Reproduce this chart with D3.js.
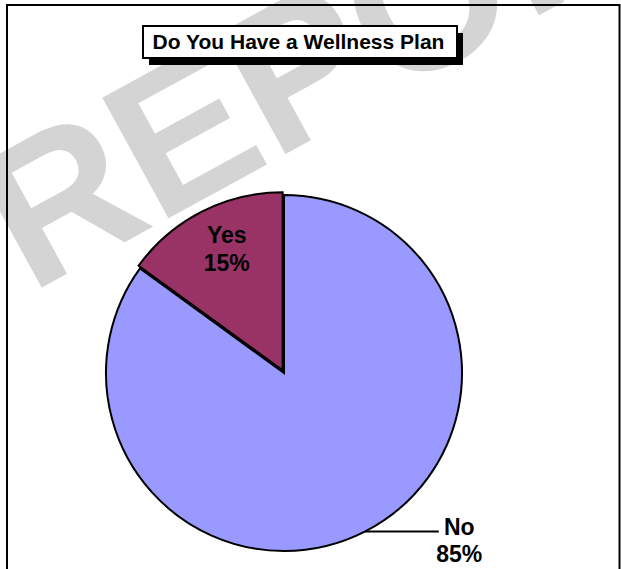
<!DOCTYPE html>
<html>
<head>
<meta charset="utf-8">
<script src="https://cdn.jsdelivr.net/npm/d3@7"></script>
<style>
  html, body { margin: 0; padding: 0; background: #fff; }
  svg { display: block; }
  text { font-family: "Liberation Sans", Arial, Helvetica, sans-serif; font-weight: bold; }
</style>
</head>
<body>
<svg id="chart" width="621" height="569"></svg>
<script>
// Survey answers, percent of respondents
const categories = ["No", "Yes"];
const values = [85, 15];
const sliceColors = ["#9999FF", "#993366"];
const titleText = "Do You Have a Wellness Plan";
const watermarkText = "REPORT";

const W = 621, H = 569;
const svg = d3.select("#chart");

// Light grey stamp running diagonally behind the chart
svg.append("text")
  .attr("transform", "translate(30,294) rotate(-28.7)")
  .attr("font-size", 200)
  .attr("fill", "#d4d4d4")
  .text(watermarkText);

// Chart frame
svg.append("rect")
  .attr("x", 7).attr("y", 5)
  .attr("width", 612.5).attr("height", 570)
  .attr("fill", "none")
  .attr("stroke", "#000")
  .attr("stroke-width", 2);

// Title box with drop shadow
const tb = { x: 143, y: 26, w: 314, h: 32, sh: 6 };
svg.append("rect")
  .attr("x", tb.x + tb.sh).attr("y", tb.y + tb.sh + 1)
  .attr("width", tb.w).attr("height", tb.h)
  .attr("fill", "#000");
svg.append("rect")
  .attr("x", tb.x).attr("y", tb.y)
  .attr("width", tb.w).attr("height", tb.h)
  .attr("fill", "#fff")
  .attr("stroke", "#000")
  .attr("stroke-width", 2);
svg.append("text")
  .attr("x", tb.x + tb.w / 2 - 1.5)
  .attr("y", tb.y + 22.5)
  .attr("text-anchor", "middle")
  .attr("font-size", 21)
  .attr("fill", "#000")
  .text(titleText);

// Pie
const cx = 284, cy = 373, R = 178;
const data = categories.map((c, i) => ({ name: c, value: values[i], color: sliceColors[i] }));
const pie = d3.pie().sort(null).value(d => d.value).startAngle(0).endAngle(2 * Math.PI);
const arcs = pie(data);
const arc = d3.arc().innerRadius(0).outerRadius(R);

const g = svg.append("g").attr("transform", `translate(${cx},${cy})`);

// Small slices are pulled out a little from the centre
const explode = d => (d.data.name === "Yes" ? 3 : 0);
const mid = d => (d.startAngle + d.endAngle) / 2;

g.selectAll("path.slice")
  .data(arcs)
  .join("path")
  .attr("class", "slice")
  .attr("d", arc)
  .attr("transform", d => {
    const o = explode(d), a = mid(d);
    return `translate(${o * Math.sin(a)},${-o * Math.cos(a)})`;
  })
  .attr("fill", d => d.data.color)
  .attr("stroke", "#000")
  .attr("stroke-width", 2)
  .attr("stroke-linejoin", "miter");

const fmt = d => `${d.data.value}%`;

// "Yes" label sits inside its slice
const yes = arcs.find(d => d.data.name === "Yes");
{
  const a = mid(yes) + 0.04, r = 137;
  const x = r * Math.sin(a), y = -r * Math.cos(a);
  const t = g.append("text")
    .attr("text-anchor", "middle")
    .attr("font-size", 23)
    .attr("fill", "#000");
  t.append("tspan").attr("x", x).attr("y", y - 5.5).text(yes.data.name);
  t.append("tspan").attr("x", x).attr("y", y + 22).text(fmt(yes));
}

// "No" label sits outside with a leader line
const no = arcs.find(d => d.data.name === "No");
{
  const a = mid(no);
  const x0 = R * Math.sin(a), y0 = -R * Math.cos(a);
  const x1 = x0 + 74;
  g.append("line")
    .attr("x1", x0).attr("y1", y0)
    .attr("x2", x1).attr("y2", y0)
    .attr("stroke", "#000")
    .attr("stroke-width", 2);
  const lx = x1 + 20.5;
  const t = g.append("text")
    .attr("text-anchor", "middle")
    .attr("font-size", 23)
    .attr("fill", "#000");
  t.append("tspan").attr("x", lx).attr("y", y0 + 3).text(no.data.name);
  t.append("tspan").attr("x", lx).attr("y", y0 + 30.7).text(fmt(no));
}
</script>
</body>
</html>
